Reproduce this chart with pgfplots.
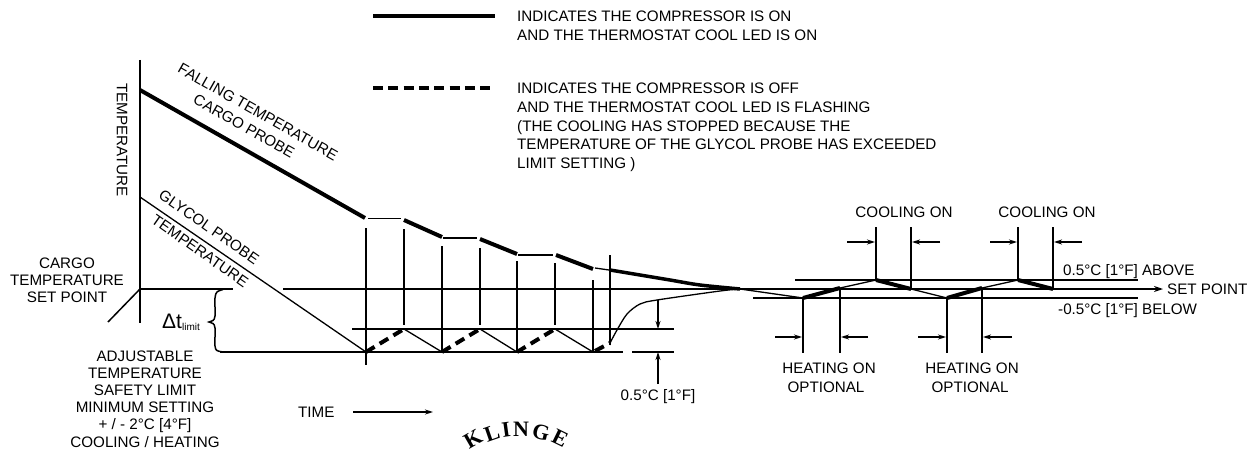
\documentclass[border=0pt]{standalone}
\usepackage{fontspec}
\setmainfont{Liberation Sans}
\newfontfamily\serifb{Liberation Serif}
\usepackage{pgfplots}
\pgfplotsset{compat=1.18}
\usetikzlibrary{arrows.meta}
\newcommand\lbl{\fontsize{15.2bp}{18bp}\selectfont}
\newcommand\wm{\serifb\bfseries\fontsize{22bp}{22bp}\selectfont}
\tikzset{
  tn/.style={black,line width=1.3bp},
  md/.style={black,line width=2bp},
  tk/.style={black,line width=4bp},
  dsh/.style={black,line width=4bp,dash pattern=on 10bp off 6bp},
  ar/.style={black,line width=1.3bp,-{Stealth[length=8bp,width=5bp]}},
  tx/.style={font=\lbl,inner sep=0pt,black},
  wl/.style={font=\wm,inner sep=0pt,black},
}
\begin{document}
\begin{tikzpicture}
\begin{axis}[width=1257bp,height=452bp,scale only axis,
  xmin=0,xmax=1257,ymin=0,ymax=452,y dir=reverse,hide axis,clip=false]
\addplot[draw=none] coordinates {(0,0) (1257,452)};
% legend
\addplot[tk] coordinates {(373,16) (495,16)};
\addplot[black,line width=3.5bp,dash pattern=on 10bp off 5.3bp] coordinates {(373,88) (495,88)};
% temperature axis
\addplot[black,line width=2.3bp] coordinates {(140,60) (140,323)};
\addplot[black,line width=1.5bp] coordinates {(140,289) (108,322)};
\addplot[black,line width=2.5bp] coordinates {(140,289) (233,289)};
\addplot[black,line width=2.5bp,-{Stealth[length=9bp,width=6bp]}] coordinates {(283,289) (1163,289)};
% brace
\addplot[black,line width=1.5bp,smooth,tension=0.5] coordinates {(223,289.5) (217,292) (215,298) (215,316) (213,320.5) (209,322) (213,323.5) (215,328) (215,346) (217,350.5) (223,352)};
% limit lines
\addplot[md] coordinates {(220,352) (623,352)};
\addplot[md] coordinates {(632,352) (674,352)};
\addplot[black,line width=1.7bp] coordinates {(352,329) (674,329)};
% glycol probe
\addplot[tn] coordinates {(140,197) (366,352)};
\addplot[tn] coordinates {(404,329) (442,352)};
\addplot[tn] coordinates {(480,329) (517,352)};
\addplot[tn] coordinates {(555,329) (593,352)};
\addplot[dsh] coordinates {(366,352) (404,329)};
\addplot[dsh] coordinates {(442,352) (480,329)};
\addplot[dsh] coordinates {(517,352) (555,329)};
\addplot[dsh] coordinates {(595,351) (610,343)};
\addplot[tn,smooth] coordinates {(610,343) (617,330) (627,314) (640,304) (657,300) (720,291) (740,289)};
% cargo probe
\addplot[tk] coordinates {(140,90) (365,218)};
\addplot[tn] coordinates {(368,218.5) (401,218.5)};
\addplot[tk] coordinates {(404,220) (442,237)};
\addplot[tn] coordinates {(443,238) (477,238)};
\addplot[tk] coordinates {(480,239) (517,254)};
\addplot[tn] coordinates {(518,255) (553,255)};
\addplot[tk] coordinates {(556,255) (593,269)};
\addplot[tn] coordinates {(595,268) (609,270)};
\addplot[black,line width=3.5bp,smooth] coordinates {(610,270) (640,275) (670,280) (700,285) (740,289)};
% verticals middle
\addplot[md] coordinates {(366,228) (366,365)};
\addplot[md] coordinates {(404,229) (404,325)};
\addplot[md] coordinates {(442,246) (442,352)};
\addplot[md] coordinates {(480,248) (480,325)};
\addplot[md] coordinates {(517,261) (517,352)};
\addplot[md] coordinates {(555,263) (555,325)};
\addplot[md] coordinates {(593,280) (593,352)};
\addplot[md] coordinates {(610,255) (610,345)};
% dimension arrows
\addplot[ar] coordinates {(658,300) (658,329)};
\addplot[ar] coordinates {(658,384) (658,352)};
% right bands
\addplot[md] coordinates {(795,280) (1138,280)};
\addplot[md] coordinates {(753,298) (1138,298)};
% zigzag
\addplot[tn] coordinates {(740,289) (803,298)};
\addplot[tk] coordinates {(803,298) (840,288)};
\addplot[tn] coordinates {(840,288) (876,280)};
\addplot[tk] coordinates {(876,280) (911,289)};
\addplot[tn] coordinates {(911,289) (947,298)};
\addplot[tk] coordinates {(947,298) (982,288)};
\addplot[tn] coordinates {(982,288) (1018,280)};
\addplot[tk] coordinates {(1018,280) (1053,289)};
% right verticals
\addplot[md] coordinates {(876,227) (876,280)};
\addplot[md] coordinates {(911,227) (911,289)};
\addplot[md] coordinates {(1018,227) (1018,280)};
\addplot[md] coordinates {(1053,227) (1053,289)};
\addplot[md] coordinates {(803,298) (803,353)};
\addplot[md] coordinates {(840,288) (840,353)};
\addplot[md] coordinates {(947,298) (947,353)};
\addplot[md] coordinates {(982,288) (982,353)};
% small arrows
\addplot[ar] coordinates {(847,242) (875,242)};
\addplot[ar] coordinates {(940,242) (912,242)};
\addplot[ar] coordinates {(990,242) (1017,242)};
\addplot[ar] coordinates {(1082,242) (1054,242)};
\addplot[ar] coordinates {(775,337) (802,337)};
\addplot[ar] coordinates {(868,337) (841,337)};
\addplot[ar] coordinates {(918,337) (946,337)};
\addplot[ar] coordinates {(1012,337) (983,337)};
% time arrow
\addplot[ar] coordinates {(353,412) (433,412)};

% ---- texts ----
\node[tx,anchor=base west] at (517,21.5) {INDICATES THE COMPRESSOR IS ON};
\node[tx,anchor=base west] at (517,41) {AND THE THERMOSTAT COOL LED IS ON};
\node[tx,anchor=base west] at (517,93.5) {INDICATES THE COMPRESSOR IS OFF};
\node[tx,anchor=base west] at (517,112.5) {AND THE THERMOSTAT COOL LED IS FLASHING};
\node[tx,anchor=base west] at (517,131) {(THE COOLING HAS STOPPED BECAUSE THE};
\node[tx,anchor=base west] at (517,149.5) {TEMPERATURE OF THE GLYCOL PROBE HAS EXCEEDED};
\node[tx,anchor=base west] at (517,168) {LIMIT SETTING )};

\node[tx,rotate=-90] at (122,140) {TEMPERATURE};
\node[tx,rotate=-29.6] at (258,112) {FALLING TEMPERATURE};
\node[tx,rotate=-29.6] at (244,126) {CARGO PROBE};
\node[tx,rotate=-35] at (209,227) {GLYCOL PROBE};
\node[tx,rotate=-35] at (200,251) {TEMPERATURE};

\node[tx,anchor=base] at (67,268.5) {CARGO};
\node[tx,anchor=base] at (67,285.5) {TEMPERATURE};
\node[tx,anchor=base] at (67,302.5) {SET POINT};

\node[tx,anchor=base west] at (162,328) {{\fontsize{21bp}{21bp}\selectfont Δt}\raisebox{-2.5bp}{\fontsize{10bp}{10bp}\selectfont limit}};

\node[tx,anchor=base] at (145,361.5) {ADJUSTABLE};
\node[tx,anchor=base] at (145,378.5) {TEMPERATURE};
\node[tx,anchor=base] at (145,395.5) {SAFETY LIMIT};
\node[tx,anchor=base] at (145,412.5) {MINIMUM SETTING};
\node[tx,anchor=base] at (145,429.5) {+ / - 2°C [4°F]};
\node[tx,anchor=base] at (145,447) {COOLING / HEATING};

\node[tx,anchor=base west] at (298,417.5) {TIME};
\node[tx,anchor=base] at (658,400.5) {0.5°C [1°F]};

\node[tx,anchor=base] at (904,217.5) {COOLING ON};
\node[tx,anchor=base] at (1047,217.5) {COOLING ON};
\node[tx,anchor=base] at (829,373.5) {HEATING ON};
\node[tx,anchor=base] at (826,392.5) {OPTIONAL};
\node[tx,anchor=base] at (972,373.5) {HEATING ON};
\node[tx,anchor=base] at (970,392.5) {OPTIONAL};

\node[tx,anchor=base west] at (1063,275.5) {0.5°C [1°F] ABOVE};
\node[tx,anchor=base west] at (1167,294.5) {SET POINT};
\node[tx,anchor=base west] at (1058,314) {-0.5°C [1°F] BELOW};

% watermark
\node[wl,rotate=30] at (473,439) {K};
\node[wl,rotate=19] at (492,433) {L};
\node[wl,rotate=8] at (506,430) {I};
\node[wl,rotate=0] at (521,429) {N};
\node[wl,rotate=-13] at (541,432) {G};
\node[wl,rotate=-26] at (560,438) {E};
\end{axis}
\end{tikzpicture}
\end{document}
